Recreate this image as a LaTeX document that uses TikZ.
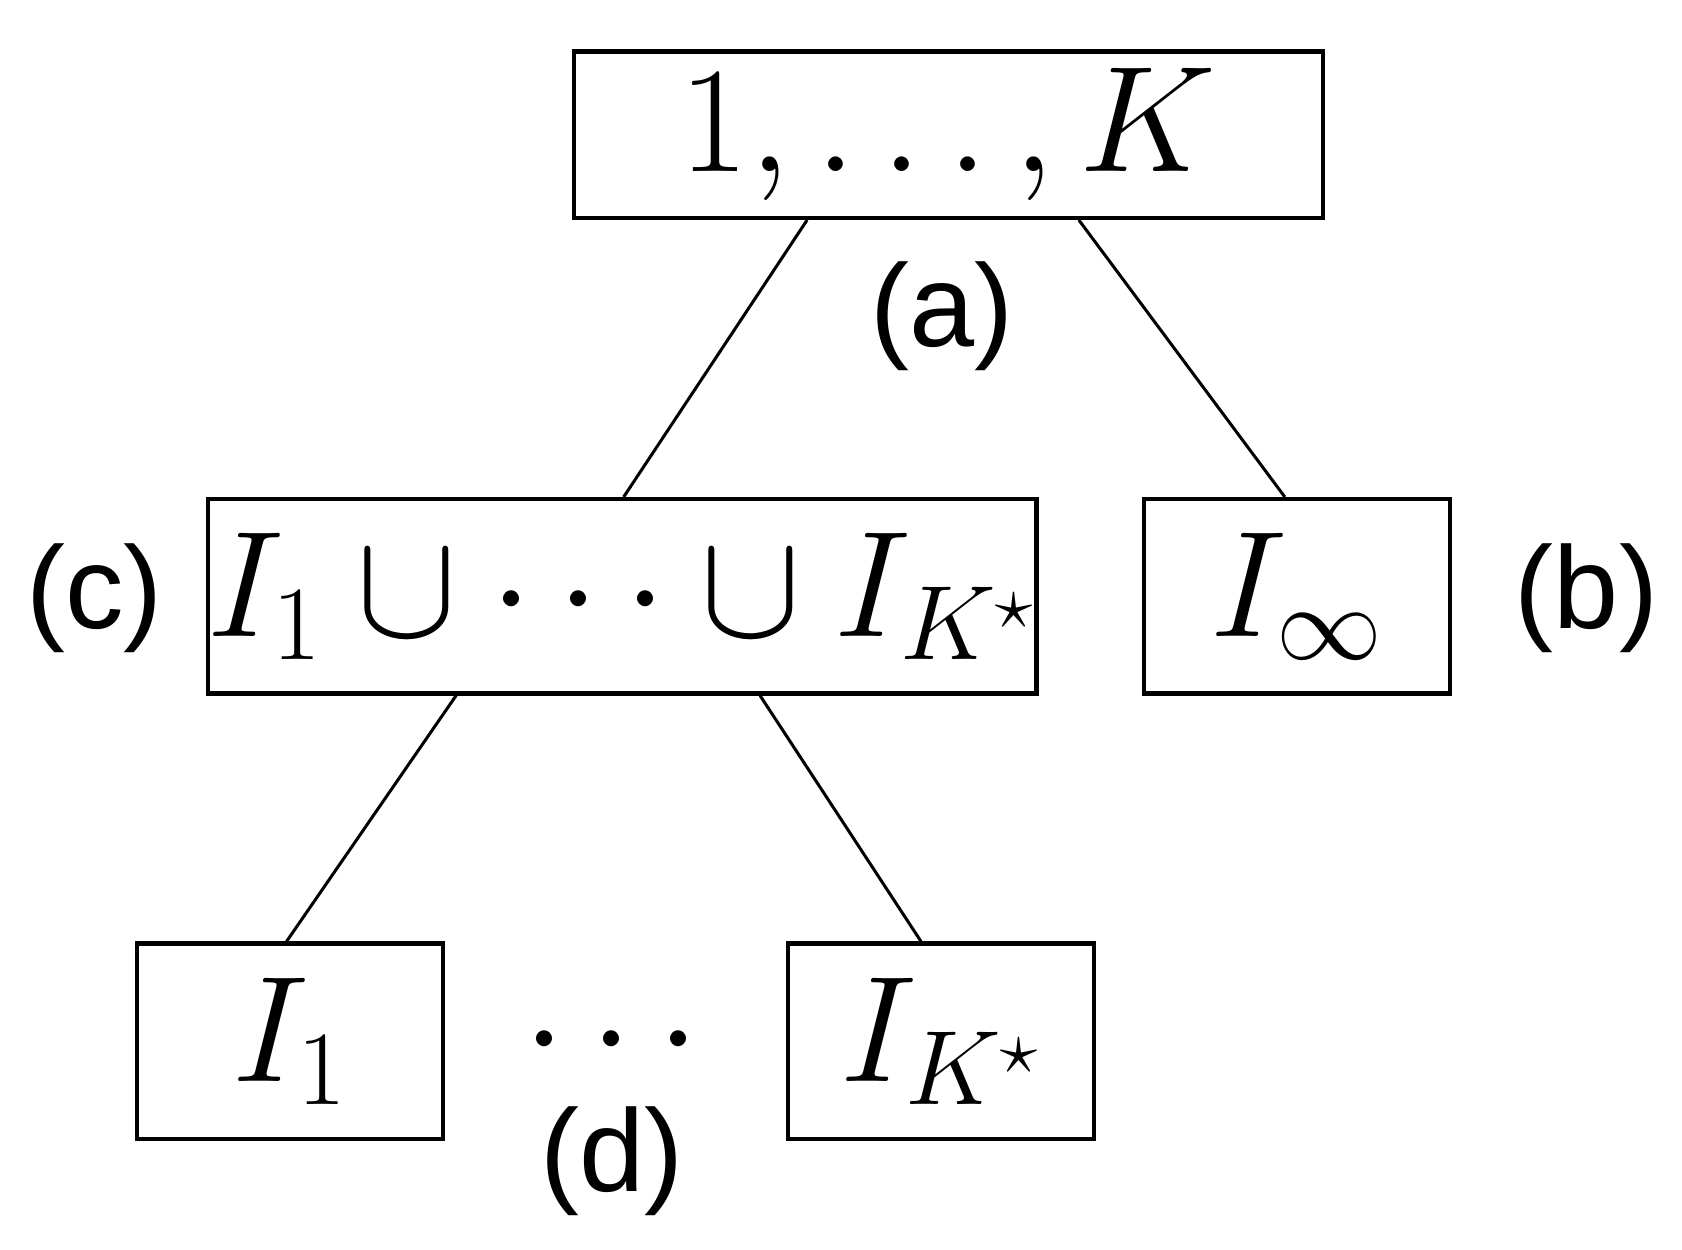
\RequirePackage{fix-cm}
\documentclass[tikz,border=0pt]{standalone}
\usepackage{fontspec}
\newfontfamily\lblfont{Liberation Sans}
\tikzset{
  box/.style={draw, line width=1.1pt, inner sep=0pt},
  lbl/.style={font=\lblfont\fontsize{31}{36}\selectfont},
  edge/.style={line width=0.8pt}
}
\begin{document}
\begin{tikzpicture}[x=0.01cm, y=-0.01cm, font=\fontsize{40}{46}\selectfont]
	\useasboundingbox (0,0) rectangle (1567,1164);

	% Cajas
	\node[box, minimum width=6.97cm, minimum height=1.55cm] (top) at (883.5,125.5) {$1,\ldots,K$};
	\node[box, minimum width=7.35cm, minimum height=1.81cm] (union) at (579.5,555.5) {$I_1\cup\cdots\cup I_{K^\star}$};
	\node[box, minimum width=2.85cm, minimum height=1.81cm] (inf) at (1208.5,555.5) {$I_\infty$};
	\node[box, minimum width=2.85cm, minimum height=1.82cm] (one) at (270.5,970) {$I_1$};
	\node[box, minimum width=2.85cm, minimum height=1.82cm] (kst) at (876.5,970) {$I_{K^\star}$};
	\node (dots) at (570,972) {$\cdots$};

	% Etiquetas
	\node[lbl] (la) at (878,295) {(a)};
	\node[lbl] (lb) at (1478,557) {(b)};
	\node[lbl] (lc) at (88,557) {(c)};
	\node[lbl] (ld) at (570,1082) {(d)};

	% Aristas
	\draw[edge] ([xshift=-1.315cm]top.south) -- ([xshift=0.015cm]union.north);
	\draw[edge] ([xshift=1.215cm]top.south) -- ([xshift=-0.115cm]inf.north);
	\draw[edge] ([xshift=-1.545cm]union.south) -- ([xshift=-0.035cm]one.north);
	\draw[edge] ([xshift=1.285cm]union.south) -- ([xshift=-0.185cm]kst.north);

\end{tikzpicture}
\end{document}
